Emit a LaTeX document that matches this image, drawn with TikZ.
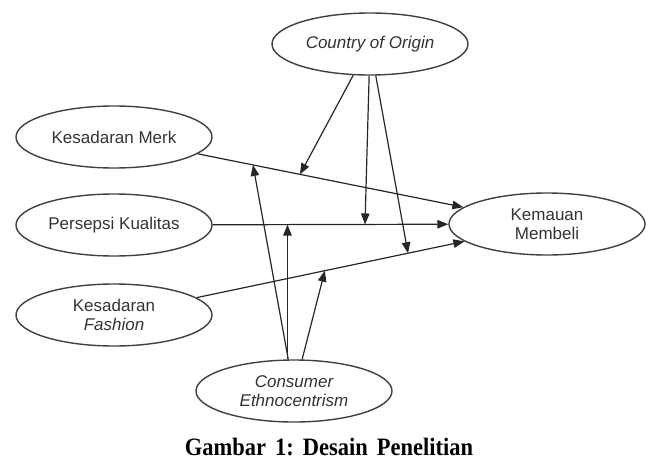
\documentclass[tikz,border=0pt]{standalone}
\usepackage{graphicx}
\usepackage{fontspec}
\setmainfont{Liberation Serif}
\newfontfamily\lsans{Liberation Sans}
\usetikzlibrary{shapes.geometric,arrows.meta,calc}
\begin{document}
\begin{tikzpicture}[x=1pt,y=-1pt,
  var/.style={ellipse, draw=black!75, line width=1.4pt, minimum width=196pt,
    minimum height=62pt, inner sep=0pt, text=black!80, align=center,
    font=\lsans\fontsize{17}{18.5}\selectfont},
  ivar/.style={var, font=\lsans\itshape\fontsize{17}{18.5}\selectfont},
  arr/.style={draw=black!85, line width=1.2pt, -{Triangle[length=11pt,width=8.5pt]}}]
\useasboundingbox (0,0) rectangle (658,461);

\node[ivar] (coo) at (370,44) {Country of Origin};
\node[var] (km) at (114,137) {Kesadaran Merk};
\node[var] (pk) at (114,225) {Persepsi Kualitas};
\node[var] (kf) at (114,315) {Kesadaran\\{\itshape Fashion}};
\node[var] (kb) at (547,224) {Kemauan\\Membeli};
\node[ivar] (ce) at (294,391) {Consumer\\Ethnocentrism};

\draw[arr] (km) -- (kb);
\draw[arr] (pk) -- (kb);
\draw[arr] (kf) -- (kb);

\coordinate (m1) at ($(km)!0.4296!(kb)$);
\coordinate (m4) at ($(km)!0.321!(kb)$);
\coordinate (m2) at ($(pk)!0.5797!(kb)$);
\coordinate (m5) at ($(pk)!0.4006!(kb)$);
\coordinate (m3) at ($(kf)!0.679!(kb)$);
\coordinate (m6) at ($(kf)!0.487!(kb)$);

\draw[arr] (coo) -- (m1);
\draw[arr] (coo) -- (m2);
\draw[arr] (coo) -- (m3);
\draw[arr] (ce) -- (m4);
\draw[arr] (ce.north -| m5) -- (m5);
\draw[arr] (ce) -- (m6);

\node[font=\bfseries\fontsize{25}{30}\selectfont, anchor=base, inner sep=0pt] (cap) at (329,455.5)
  {\scalebox{0.9}[1]{Gambar\hspace{0.4em}1:\hspace{0.4em}Desain\hspace{0.4em}Penelitian}};
\end{tikzpicture}
\end{document}
